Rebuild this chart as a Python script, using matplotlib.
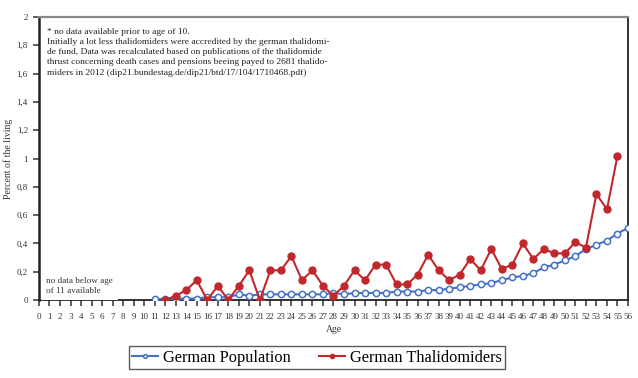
import matplotlib.pyplot as plt
from matplotlib.ticker import FuncFormatter

plt.rcParams['font.family'] = ['Liberation Serif', 'DejaVu Serif']

# percent of the living that died at each age
ages_pop = list(range(11, 57))
german_population = [0.005, 0.01, 0.01, 0.01, 0.01, 0.02, 0.02, 0.02, 0.04, 0.03,
                     0.04, 0.04, 0.04, 0.04, 0.04, 0.04, 0.04, 0.05, 0.04, 0.05,
                     0.05, 0.05, 0.05, 0.06, 0.06, 0.06, 0.07, 0.07, 0.08, 0.09,
                     0.10, 0.11, 0.12, 0.14, 0.16, 0.17, 0.19, 0.23, 0.25, 0.28,
                     0.31, 0.36, 0.39, 0.42, 0.47, 0.51]

ages_thal = list(range(12, 56))
german_thalidomiders = [0.0, 0.03, 0.07, 0.14, 0.0, 0.10, 0.0, 0.10, 0.21, 0.0,
                        0.21, 0.21, 0.31, 0.14, 0.21, 0.10, 0.03, 0.10, 0.21, 0.14,
                        0.25, 0.25, 0.11, 0.11, 0.18, 0.32, 0.21, 0.14, 0.18, 0.29,
                        0.21, 0.36, 0.22, 0.25, 0.40, 0.29, 0.36, 0.33, 0.33, 0.41,
                        0.37, 0.75, 0.64, 1.02]

note = ("* no data available prior to age of 10.\n"
        "Initially a lot less thalidomiders were accredited by the german thalidomi-\n"
        "de fund, Data was recalculated based on publications of the thalidomide\n"
        "thrust concerning death cases and pensions beeing payed to 2681 thalido-\n"
        "miders in 2012 (dip21.bundestag.de/dip21/btd/17/104/1710468.pdf)")

blue = '#4472c4'
red = '#c0282d'

fig = plt.figure(figsize=(6.38, 3.78), dpi=100)
ax = fig.add_axes([0.0611, 0.2063, 0.9232, 0.7487])

ax.plot(ages_pop, german_population, '-o', color=blue, lw=1.5,
        markersize=4.5, markerfacecolor='white', markeredgecolor=blue,
        markeredgewidth=1.1, label='German Population', zorder=3)
ax.plot(ages_thal, german_thalidomiders, '-o', color=red, lw=1.5,
        markersize=5, markerfacecolor=red, markeredgecolor=red,
        label='German Thalidomiders', zorder=4)

ax.set_xlim(0, 56)
ax.set_ylim(0, 2)
ax.set_xticks(range(0, 57))
ax.set_yticks([i * 0.2 for i in range(11)])
ax.yaxis.set_major_formatter(FuncFormatter(
    lambda v, p: '0' if abs(v) < 1e-9 else ('%g' % round(v, 1)).replace('.', ',')))
ax.tick_params(axis='both', labelsize=6.5, colors='#333333', length=4,
               width=1.1, direction='out', pad=5)
ax.tick_params(axis='y', pad=4)

for side in ['left', 'bottom', 'right']:
    ax.spines[side].set_color('#222222')
    ax.spines[side].set_linewidth(1.3)
ax.spines['top'].set_color('#888888')
ax.spines['top'].set_linewidth(1.6)
ax.spines['left'].set_linewidth(1.8)

ax.set_xlabel('Age', fontsize=7, color='#333333', labelpad=3)
ax.set_ylabel('Percent of the living', fontsize=7, color='#333333')
ax.yaxis.set_label_coords(-0.044, 0.5)

ax.text(0.75, 1.925, note, fontsize=6.8, color='#222222', va='top', ha='left',
        linespacing=1.38)
ax.text(0.7, 0.035, 'no data below age\nof 11 available', fontsize=6.6,
        color='#333333', va='bottom', ha='left', linespacing=1.35,
        bbox=dict(facecolor='white', edgecolor='none', pad=3.5), zorder=5)

leg = fig.legend(loc='lower center', bbox_to_anchor=(0.497, 0.024), ncol=2,
                 fontsize=11.8, frameon=True, fancybox=False, edgecolor='#333333',
                 handlelength=1.6, columnspacing=1.7, borderpad=0.2,
                 handletextpad=0.3, borderaxespad=0, markerscale=0.6)
leg.get_frame().set_linewidth(1.0)

fig.savefig('out.png', dpi=100)
